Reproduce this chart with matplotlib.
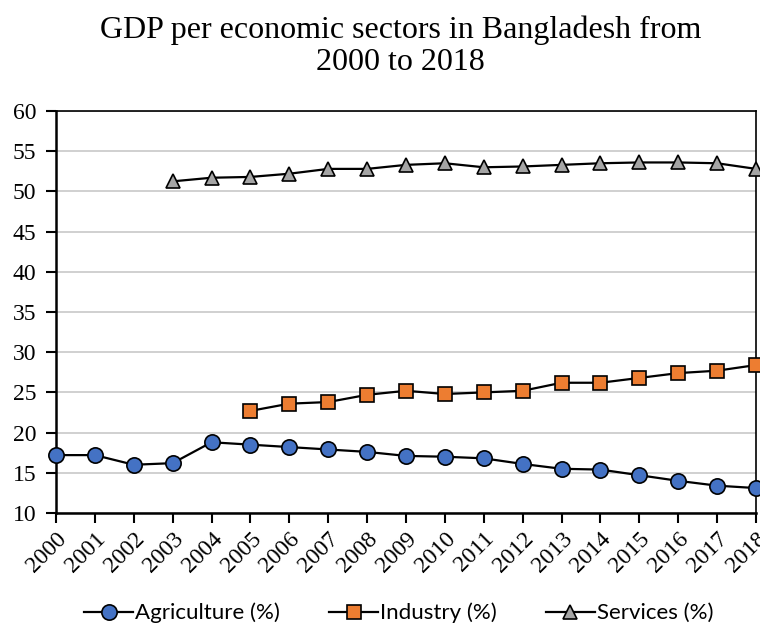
import matplotlib
matplotlib.use("Agg")
import matplotlib.pyplot as plt

years = list(range(2000, 2019))

agriculture = [17.2, 17.2, 16.0, 16.2, 18.8, 18.5, 18.2, 17.9, 17.6, 17.1,
               17.0, 16.8, 16.1, 15.5, 15.4, 14.7, 14.0, 13.4, 13.1]
industry_years = list(range(2005, 2019))
industry = [22.7, 23.6, 23.8, 24.7, 25.2, 24.8, 25.0, 25.2, 26.2, 26.2,
            26.8, 27.4, 27.7, 28.4]
services_years = list(range(2003, 2019))
services = [51.25, 51.7, 51.8, 52.2, 52.8, 52.8, 53.3, 53.5, 53.0, 53.1,
            53.3, 53.5, 53.6, 53.6, 53.5, 52.8]

SERIF = "Liberation Serif"
SANS = "Lato"

fig = plt.figure(figsize=(7.6, 6.32), dpi=100)
ax = fig.add_axes([56 / 760, 1 - 513 / 632, 700 / 760, 402 / 632])

common = dict(color="black", linewidth=1.6, markeredgecolor="black",
              markeredgewidth=1.2, clip_on=False, zorder=3)
ax.plot(years, agriculture, marker="o", markersize=11,
        markerfacecolor="#4472C4", label="Agriculture (%)", **common)
ax.plot(industry_years, industry, marker="s", markersize=9.5,
        markerfacecolor="#ED7D31", label="Industry (%)", **common)
ax.plot(services_years, services, marker="^", markersize=10,
        markerfacecolor="#A5A5A5", label="Services (%)", **common)

ax.set_xlim(2000, 2018)
ax.set_ylim(10, 60)
ax.set_yticks(range(10, 61, 5))
ax.set_xticks(years)
ax.set_xticklabels([str(y) for y in years], rotation=45, ha="right",
                   rotation_mode="anchor", fontfamily=SERIF, fontsize=17)
for lbl in ax.get_yticklabels():
    lbl.set_fontfamily(SERIF)
    lbl.set_fontsize(17)

ax.grid(axis="y", color="#C8C8C8", linewidth=1.2, zorder=0)
for side in ["left", "bottom"]:
    ax.spines[side].set_linewidth(1.8)
for side in ["top", "right"]:
    ax.spines[side].set_linewidth(1.2)
ax.tick_params(axis="both", direction="out", length=7, width=1.5)
ax.tick_params(axis="y", pad=7)
ax.tick_params(axis="x", pad=4)

fig.text(0.527, 0.975, "GDP per economic sectors in Bangladesh from\n2000 to 2018",
         ha="center", va="top", fontfamily=SERIF, fontsize=23, linespacing=1.1)

fig.legend(loc="center", bbox_to_anchor=(0.525, 0.03), ncol=3, frameon=False,
           prop={"family": SANS, "size": 16}, handlelength=2.2,
           columnspacing=2.2, handletextpad=0.1)

fig.savefig("out.png", dpi=100)
